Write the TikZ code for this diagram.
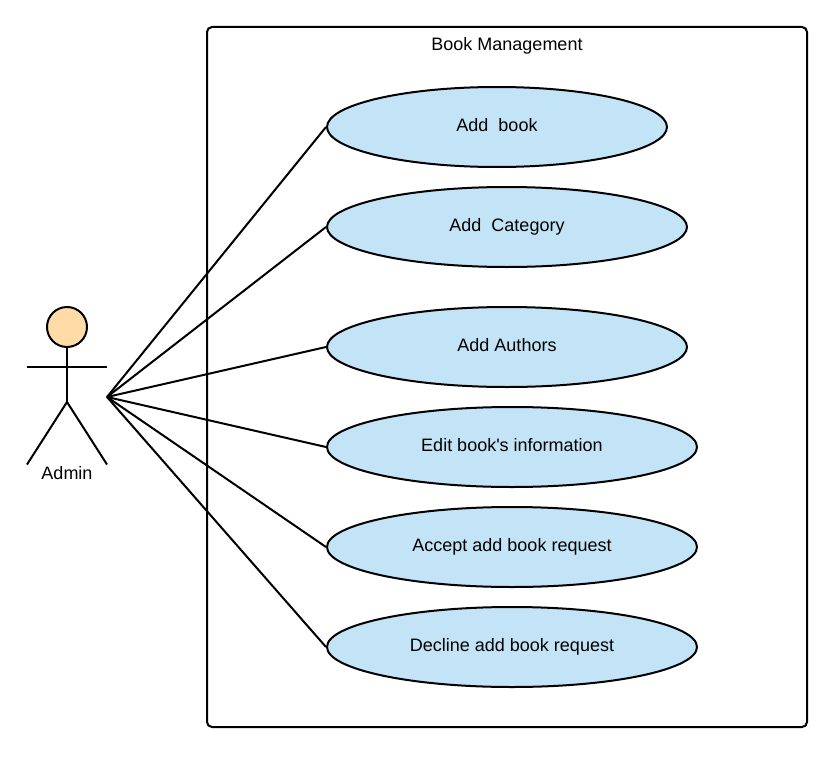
\documentclass[tikz,border=0pt]{standalone}
\usepackage{fontspec}
\setmainfont{Liberation Sans}
\usetikzlibrary{shapes.geometric}
\definecolor{casefill}{HTML}{C3E3F6}
\definecolor{headfill}{HTML}{FFDBA8}
\tikzset{x=1pt,y=-1pt,
  labeltext/.style={font=\fontsize{18}{21}\selectfont,text height=12pt,text depth=3pt},
  usecase/.style={ellipse,draw,fill=casefill,line width=2pt,minimum height=80pt,inner sep=0pt,labeltext},
  actorline/.style={line width=2pt},
  link/.style={line width=2pt}}
\begin{document}
\begin{tikzpicture}
\useasboundingbox (0,0) rectangle (837,765);
\draw[line width=2pt,rounded corners=5pt] (207,27) rectangle (807,727);
\node[labeltext] (title) at (507,46) {Book Management};
% actor
\node[circle,draw,fill=headfill,line width=2pt,minimum size=40pt,inner sep=0pt] (head) at (67,327) {};
\coordinate (hip) at (67,402);
\coordinate (arml) at (27,366.5);
\coordinate (armr) at (107,366.5);
\coordinate (footl) at (27,464.5);
\coordinate (footr) at (107,464.5);
\coordinate (admin) at (107,397);
\draw[actorline] (head.south) -- (hip);
\draw[actorline] (arml) -- (armr);
\draw[actorline] (footl) -- (hip) -- (footr);
\node[labeltext] (adminlabel) at (67,475) {Admin};
% use cases
\node[usecase,minimum width=340pt] (addbook) at (497,127) {Add\ \ book};
\node[usecase,minimum width=360pt] (addcat) at (507,227) {Add\ \ Category};
\node[usecase,minimum width=360pt] (addauth) at (507,347) {Add Authors};
\node[usecase,minimum width=370pt] (editbook) at (512,447) {Edit book\textquotesingle s information};
\node[usecase,minimum width=370pt] (accept) at (512,547) {Accept add book request};
\node[usecase,minimum width=370pt] (decline) at (512,647) {Decline add book request};
\foreach \c in {addbook,addcat,addauth,editbook,accept,decline}
  \draw[link] (admin) -- (\c.west);
\end{tikzpicture}
\end{document}
